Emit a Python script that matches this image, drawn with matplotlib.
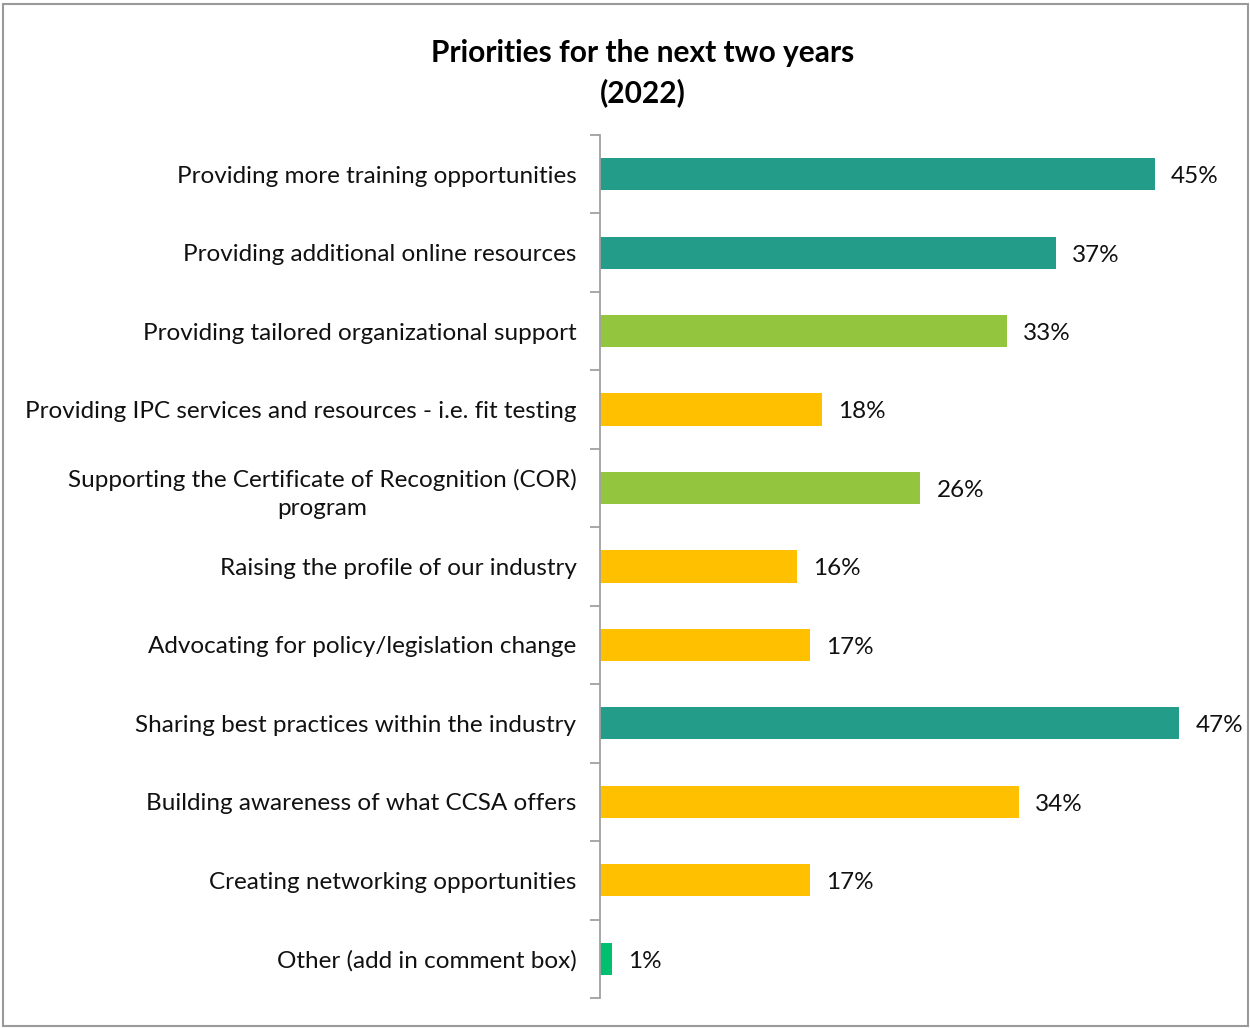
import matplotlib
matplotlib.use("Agg")
from matplotlib import pyplot as plt
from matplotlib.patches import Rectangle
import numpy as np

plt.rcParams['font.family'] = ['Lato', 'DejaVu Sans']

categories = [
    "Providing more training opportunities",
    "Providing additional online resources",
    "Providing tailored organizational support",
    "Providing IPC services and resources - i.e. fit testing",
    "Supporting the Certificate of Recognition (COR)\nprogram",
    "Raising the profile of our industry",
    "Advocating for policy/legislation change",
    "Sharing best practices within the industry",
    "Building awareness of what CCSA offers",
    "Creating networking opportunities",
    "Other (add in comment box)",
]
values = [45, 37, 33, 18, 26, 16, 17, 47, 34, 17, 1]

teal = "#249C8A"
green = "#93C63E"
yellow = "#FFC000"
bright = "#00BF6F"
colors = [teal, teal, green, yellow, green, yellow, yellow, teal, yellow, yellow, bright]

fig = plt.figure(figsize=(12.5, 10.28), dpi=100)
ax = fig.add_axes([0.48, 0.0292, 0.493, 0.8395])

y = np.arange(len(categories))
ax.barh(y, values, height=0.41, color=colors)
ax.set_ylim(len(categories) - 0.5, -0.5)
ax.set_xlim(0, 50)

for yi, v in zip(y, values):
    ax.text(v + 1.3, yi + 0.03, f"{v}%", va="center", ha="left", fontsize=17.5, color="#111111")

ax.set_yticks(y)
ax.set_yticklabels(categories, fontsize=17.5, color="#111111", ha="right")
ax.tick_params(axis="y", which="major", length=0, pad=17)
ax.set_yticks(np.arange(len(categories) + 1) - 0.5, minor=True)
ax.tick_params(axis="y", which="minor", length=7, width=1.3, color="#A0A0A0")
for lbl in ax.get_yticklabels():
    lbl.set_multialignment("center")
    lbl.set_linespacing(1.45)

ax.set_xticks([])
for side in ["top", "right", "bottom"]:
    ax.spines[side].set_visible(False)
ax.spines["left"].set_color("#A0A0A0")
ax.spines["left"].set_linewidth(1.3)

fig.text(0.514, 0.929, "Priorities for the next two years\n(2022)", ha="center", va="center",
         fontsize=21.5, fontweight="bold", linespacing=1.45)

fig.patches.append(Rectangle((0.002, 0.002), 0.996, 0.994, transform=fig.transFigure,
                             fill=False, edgecolor="#9A9A9A", linewidth=1.5))

plt.savefig("out.png", dpi=100)
